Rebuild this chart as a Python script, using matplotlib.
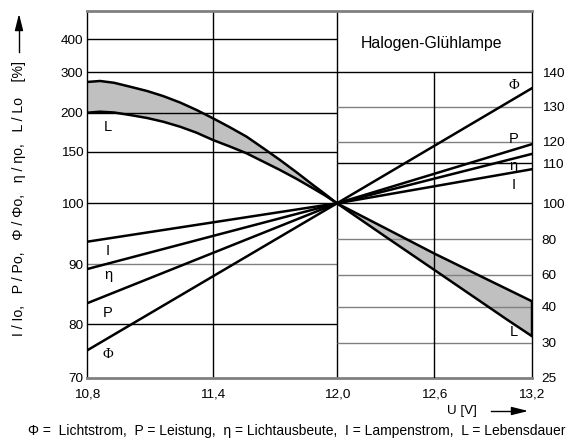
import numpy as np
import matplotlib.pyplot as plt

plt.rcParams['font.family'] = ['Liberation Sans', 'DejaVu Sans']

# U [V] axis; the printed grid is wider below 12 V than above it
u_ticks = [10.8, 11.4, 12.0, 12.6, 13.2]
u_labels = ['10,8', '11,4', '12,0', '12,6', '13,2']
u_grid = [0, 126, 250, 347, 444.5]

# left scale (used for U < 12 V), irregular printed spacing
left_ticks = [70, 80, 90, 100, 150, 200, 300, 400]
left_grid = [0, 53.4, 113.4, 174.4, 226, 265.2, 305.4, 338.4]
left_top = 485
# right scale (used for U > 12 V)
right_ticks = [25, 30, 40, 60, 80, 100, 110, 120, 130, 140]
right_grid = [0, 35, 71, 103.2, 138.7, 174.4, 214.4, 236, 271, 305.4]
right_top = 158
grid_height = 366.7

# straight lines, all through 100 % at 12 V
line_names = ['I', 'η', 'P', 'Φ']
at_10_8 = [93.7, 89.2, 83.5, 75.1]
at_13_2 = [108.5, 114.3, 118.8, 135.3]

# lifetime band L
L_u_left = [10.8, 10.862, 10.929, 11.005, 11.086, 11.162, 11.243, 11.322, 11.4,
            11.482, 11.563, 11.642, 11.724, 11.806, 11.884, 11.942, 12.0]
L_upper_left = [275.9, 278.4, 273.9, 264.2, 253.5, 241.0, 224.9, 206.2, 192.6,
                181.1, 169.1, 154.7, 142.0, 129.8, 117.7, 109.0, 100]
L_lower_left = [199.7, 202.0, 200.0, 196.8, 193.0, 188.3, 181.9, 174.2, 164.9,
                156.6, 148.4, 140.5, 132.3, 123.5, 114.5, 107.6, 100]
L_u_right = [12.0, 12.3, 12.6, 12.9, 13.05, 13.2]
L_upper_right = [100, 86, 71.9, 58.3, 50.9, 43.5]
L_lower_right = [100, 81.3, 62.7, 42.3, 36.4, 31.9]

# which grid lines are printed grey
left_grey = [False, True, False, False, False, False, False]      # 80..400
right_grey = [True, True, True, True, False, False, True, True, False]  # 30..140

GREY = '#808080'
BAND = '#c0c0c0'


def piecewise(vals, pos):
    return (lambda v: np.interp(v, vals, pos),
            lambda p: np.interp(p, pos, vals))


fig = plt.figure(figsize=(5.77, 4.43), dpi=100)
ax = fig.add_axes([87 / 577, 1 - 377.7 / 443, 444.5 / 577, 366.7 / 443])
ax.set_xscale('function', functions=piecewise(u_ticks, u_grid))
ax.set_yscale('function', functions=piecewise(left_ticks + [left_top], left_grid + [grid_height]))
ax2 = ax.twinx()
ax2.set_yscale('function', functions=piecewise(right_ticks + [right_top], right_grid + [grid_height]))

ax.set_xlim(10.8, 13.2)
ax.set_ylim(70, left_top)
ax2.set_ylim(25, right_top)

# grid
ax.hlines(left_ticks[1:], 10.8, 12.0, colors=[GREY if g else 'k' for g in left_grey], lw=1)
ax2.hlines(right_ticks[1:], 12.0, 13.2, colors=[GREY if g else 'k' for g in right_grey], lw=1)
ax.vlines([11.4, 12.0], 70, left_top, colors='k', lw=1)
ax2.vlines(12.6, 25, 140, colors='k', lw=1)

# L band
ax.fill_between(L_u_left, L_lower_left, L_upper_left, color=BAND, lw=0)
ax.plot(L_u_left, L_upper_left, 'k-', lw=1.8)
ax.plot(L_u_left, L_lower_left, 'k-', lw=1.8)
ax2.fill_between(L_u_right, L_lower_right, L_upper_right, color=BAND, lw=0)
ax2.plot(L_u_right, L_upper_right, 'k-', lw=1.8)
ax2.plot(L_u_right, L_lower_right, 'k-', lw=1.8)
ax2.vlines(13.2, L_lower_right[-1], L_upper_right[-1], colors='k', lw=2.5)

for a, b in zip(at_10_8, at_13_2):
    ax.plot([10.8, 12.0], [a, 100], 'k-', lw=1.8)
    ax2.plot([12.0, 13.2], [100, b], 'k-', lw=1.8)

# curve names
left_lab_y = [92.2, 88.2, 81.9, 74.4]
right_lab_y = [104.6, 109.3, 120.8, 136.3]
for name, yl, yr in zip(line_names, left_lab_y, right_lab_y):
    fam = ['Liberation Serif'] if name == 'Φ' else None
    ax.text(10.9, yl, name, ha='center', va='center', fontsize=10.5, family=fam)
    ax2.text(13.09, yr, name, ha='center', va='center', fontsize=10.5, family=fam)
ax.text(10.9, 181.5, 'L', ha='center', va='center', fontsize=10.5)
ax2.text(13.09, 32.9, 'L', ha='center', va='center', fontsize=10.5)

# frame and ticks
for s in ['top', 'bottom']:
    ax.spines[s].set_color(GREY)
    ax.spines[s].set_linewidth(2)
for s in ['left', 'right']:
    ax.spines[s].set_color('k')
    ax.spines[s].set_linewidth(1)
for s in ax2.spines.values():
    s.set_visible(False)

ax.set_xticks(u_ticks, u_labels)
ax.set_yticks(left_ticks, [str(v) for v in left_ticks])
ax2.set_yticks(right_ticks, [str(v) for v in right_ticks])
ax.minorticks_off()
ax2.minorticks_off()
ax.tick_params(axis='x', length=0, labelsize=9.7, pad=7.5)
ax.tick_params(axis='y', length=0, labelsize=9.7, pad=2.7)
ax2.tick_params(axis='y', length=0, labelsize=9.7, pad=7.3)

ax.text(0.7755, 0.912, 'Halogen-Glühlampe', transform=ax.transAxes,
        ha='center', va='center', fontsize=11.4)

# axis titles with arrows
fig.text(19 / 577, 1 - 198 / 443, 'I / Io,   P / Po,   Φ / Φo,   η / ηo,   L / Lo    [%]',
         rotation=90, ha='center', va='center', fontsize=10.2)
fig.add_artist(plt.Line2D([19 / 577, 19 / 577], [1 - 52 / 443, 1 - 22 / 443], color='k', lw=1))
ax.annotate('', xy=(19 / 577, 1 - 11 / 443), xytext=(19 / 577, 1 - 24 / 443),
            xycoords='figure fraction',
            arrowprops=dict(arrowstyle='-|>,head_width=0.25,head_length=1.0', color='k', lw=1))
fig.text(462 / 577, 1 - 411 / 443, 'U [V]', ha='center', va='center', fontsize=9.7)
fig.add_artist(plt.Line2D([491 / 577, 515 / 577], [1 - 411 / 443] * 2, color='k', lw=1))
ax.annotate('', xy=(531 / 577, 1 - 411 / 443), xytext=(513 / 577, 1 - 411 / 443),
            xycoords='figure fraction',
            arrowprops=dict(arrowstyle='-|>,head_width=0.25,head_length=1.0', color='k', lw=1))

fig.text(297 / 577, 1 - 431 / 443,
         'Φ =  Lichtstrom,  P = Leistung,  η = Lichtausbeute,  I = Lampenstrom,  L = Lebensdauer',
         ha='center', va='center', fontsize=10.0)

fig.savefig('out.png', dpi=100)
